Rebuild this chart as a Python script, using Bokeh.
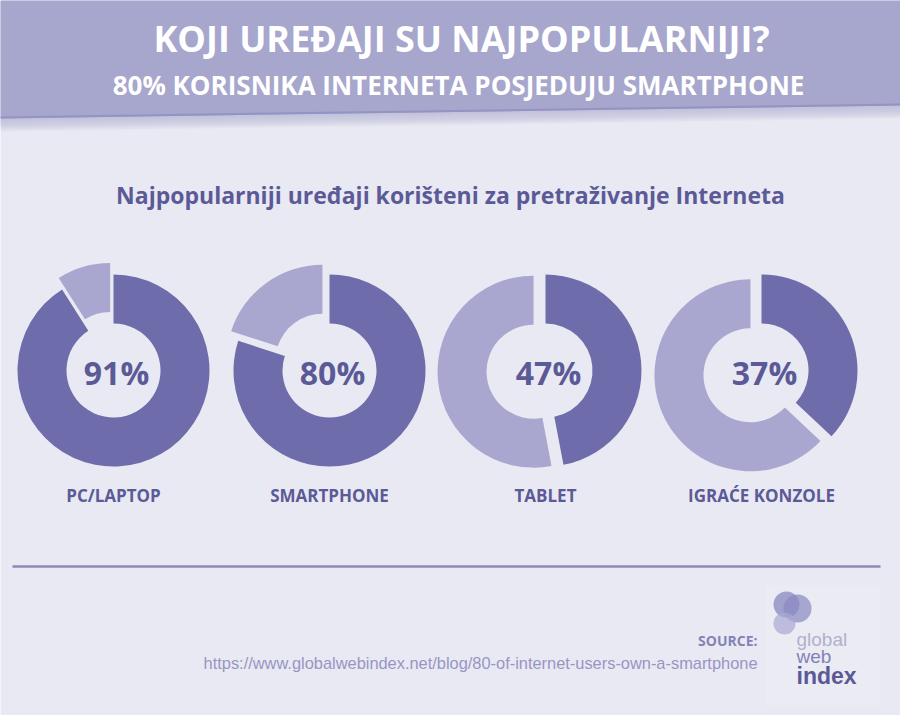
import math
from bokeh.plotting import figure
from bokeh.models import Range1d
from bokeh.embed import file_html
from bokeh.resources import INLINE
from bokeh.core.properties import value

# ---- data ----
title = "KOJI UREĐAJI SU NAJPOPULARNIJI?"
subtitle = "80% KORISNIKA INTERNETA POSJEDUJU SMARTPHONE"
chart_title = "Najpopularniji uređaji korišteni za pretraživanje Interneta"
categories = ["PC/LAPTOP", "SMARTPHONE", "TABLET", "IGRAĆE KONZOLE"]
percentages = [91, 80, 47, 37]
source_label = "SOURCE:"
source_url = "https://www.globalwebindex.net/blog/80-of-internet-users-own-a-smartphone"
logo_words = ["global", "web", "index"]

# ---- style ----
BG = "#e9e9f3"
BAND = "#a7a6cd"
DARK = "#6e6cab"
LIGHT = "#a9a7cf"
TXT = "#5b5a97"
FONT = "Open Sans"

W, H = 900, 715
p = figure(width=W, height=H, x_range=Range1d(0, 900), y_range=Range1d(0, 715),
           output_backend="svg", toolbar_location=None, min_border=0)
p.axis.visible = False
p.grid.visible = False
p.outline_line_color = None
p.background_fill_color = BG
p.border_fill_color = BG

def fy(y):
    return 715 - y

# soft shadow under header band
for k in range(14):
    p.patch(x=[0, 900, 900, 0], y=[fy(0), fy(0), fy(105 + k), fy(118 + k)],
            fill_color="#b9b8d6", fill_alpha=0.10, line_color=None)
# header band
p.patch(x=[0, 900, 900, 0], y=[fy(0), fy(0), fy(105), fy(118)], fill_color=BAND, line_color=None)
p.line(x=[0, 900], y=[fy(117), fy(104)], line_color="#9493c3", line_width=2)

p.text(x=[461], y=[fy(38)], text=[title], text_color="white", text_font=value(FONT),
       text_font_style="bold", text_font_size="36px", text_align="center", text_baseline="middle")
p.text(x=[458], y=[fy(84)], text=[subtitle], text_color="white", text_font=value(FONT),
       text_font_style="bold", text_font_size="26px", text_align="center", text_baseline="middle")
p.text(x=[450], y=[fy(194)], text=[chart_title], text_color=TXT, text_font=value(FONT),
       text_font_style="bold", text_font_size="23px", text_align="center", text_baseline="middle")

# donuts
cx0, step, cy = 113, 216, fy(370)
R_OUT, R_IN = 96, 47
explode = 12
for i, (cat, pct) in enumerate(zip(categories, percentages)):
    cx = cx0 + step * i
    frac = pct / 100.0
    start = math.pi / 2
    end = math.pi / 2 - frac * 2 * math.pi
    p.annular_wedge(x=[cx], y=[cy], inner_radius=R_IN, outer_radius=R_OUT,
                    start_angle=start, end_angle=end, direction="clock",
                    fill_color=DARK, line_color=None)
    bis = end - (1 - frac) * math.pi
    ox, oy = explode * math.cos(bis), explode * math.sin(bis)
    p.annular_wedge(x=[cx + ox], y=[cy + oy], inner_radius=R_IN, outer_radius=R_OUT,
                    start_angle=end, end_angle=start - 2 * math.pi, direction="clock",
                    fill_color=LIGHT, line_color=None)
    p.text(x=[cx + 3], y=[cy - 2], text=[f"{pct}%"], text_color=TXT, text_font=value(FONT),
           text_font_style="bold", text_font_size="32px", text_align="center", text_baseline="middle")
    p.text(x=[cx], y=[fy(495)], text=[cat], text_color=TXT, text_font=value(FONT),
           text_font_style="bold", text_font_size="17px", text_align="center", text_baseline="middle")

# divider
p.segment(x0=[12], y0=[fy(566)], x1=[880], y1=[fy(566)], line_color="#8988bf", line_width=2.5)

# source
p.text(x=[757], y=[fy(640)], text=[source_label], text_color="#8483b6", text_font=value(FONT),
       text_font_style="bold", text_font_size="14px", text_align="right", text_baseline="middle")
p.text(x=[757], y=[fy(662)], text=[source_url], text_color="#9796c3", text_font=value("Liberation Sans"),
       text_font_size="16.4px", text_align="right", text_baseline="middle")

# logo
p.quad(left=765, right=880, top=fy(585), bottom=fy(705), fill_color="#f3f3f8", fill_alpha=0.3, line_color=None)
p.circle(x=[786], y=[fy(604)], radius=13, fill_color="#8f8ec3", fill_alpha=0.8, line_color=None)
p.circle(x=[797], y=[fy(608)], radius=14, fill_color="#8a89c0", fill_alpha=0.7, line_color=None)
p.circle(x=[784], y=[fy(623)], radius=11, fill_color="#a9a8d2", fill_alpha=0.7, line_color=None)
p.text(x=[796], y=[fy(639)], text=[logo_words[0]], text_color="#b1b1cb", text_font=value("Liberation Sans"),
       text_font_size="19px", text_align="left", text_baseline="middle")
p.text(x=[796], y=[fy(656)], text=[logo_words[1]], text_color="#8382b8", text_font=value("Liberation Sans"),
       text_font_size="19px", text_align="left", text_baseline="middle")
p.text(x=[796], y=[fy(675)], text=[logo_words[2]], text_color="#5a5996", text_font=value("Liberation Sans"),
       text_font_style="bold", text_font_size="23px", text_align="left", text_baseline="middle")

open("out.html", "w").write(file_html(p, INLINE))
